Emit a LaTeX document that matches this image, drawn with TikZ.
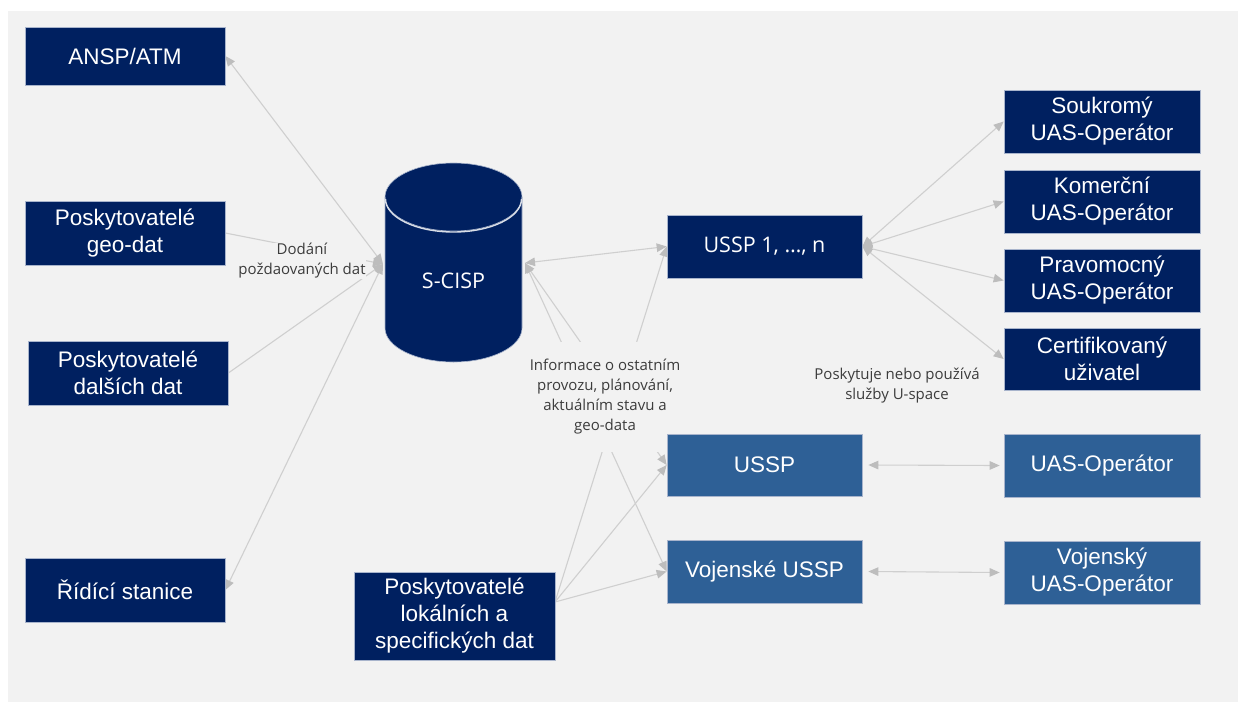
\documentclass[tikz,border=0pt]{standalone}
\usepackage{fontspec}
\setmainfont{Liberation Sans}
\newfontfamily\segoe{Open Sans}
\usetikzlibrary{arrows.meta}
\definecolor{navy}{HTML}{002060}
\definecolor{midblue}{HTML}{2E6096}
\definecolor{canvasbg}{HTML}{F2F2F2}
\definecolor{linkgray}{HTML}{CFCFCF}
\definecolor{tipgray}{HTML}{BDBDBD}
\definecolor{rimline}{HTML}{A8B4CC}
\definecolor{labeltext}{HTML}{3C3C3C}
\pgfdeclarelayer{links}
\pgfsetlayers{links,main}
\tikzset{
  box/.style={rectangle, fill=navy, draw=rimline, line width=0.7pt, text=white,
    align=center, inner sep=0pt, font=\fontsize{22.5}{27}\selectfont},
  lightbox/.style={box, fill=midblue},
  wide/.style={minimum width=200, minimum height=64},
  rightcol/.style={minimum width=196, minimum height=63},
  midcol/.style={minimum width=195, minimum height=63},
  lbl/.style={align=center, text=labeltext, inner sep=0.5pt,
    font=\segoe\fontsize{15}{20}\selectfont},
  link/.style={draw=linkgray, line width=1.1pt},
  onearrow/.style={link, arrows={-{Triangle[length=10pt,width=8.5pt,color=tipgray]}}},
  twoarrow/.style={link, arrows={{Triangle[length=10pt,width=8.5pt,color=tipgray]}-{Triangle[length=10pt,width=8.5pt,color=tipgray]}}}
}
\begin{document}
\begin{tikzpicture}[x=1pt,y=-1pt]
\useasboundingbox (0,0) rectangle (1238,702);

% left column
\node[box, minimum width=200, minimum height=58] (ansp) at (125,56) {ANSP/ATM};
\node[box, wide] (geo) at (125,233) {Poskytovatelé\\geo-dat};
\node[box, wide] (dal) at (128,373) {Poskytovatelé\\dalších dat};
\node[box, wide] (rid) at (125,590) {Řídící stanice};

% S-CISP data store
\fill[navy] (385,197) -- (385,328) arc[start angle=180,end angle=0,x radius=68.5,y radius=34]
  -- (522,197) -- cycle;
\fill[navy] (453.5,197) ellipse[x radius=68.5,y radius=34];
\draw[rimline, line width=0.6pt] (385,197) -- (385,328)
  arc[start angle=180,end angle=0,x radius=68.5,y radius=34] -- (522,197);
\draw[rimline, line width=0.6pt] (453.5,197) ellipse[x radius=68.5,y radius=34];
\draw[white!85!navy, line width=1.4pt] (385.5,199) arc[start angle=180,end angle=0,x radius=68,y radius=33];
\node[text=white, font=\segoe\fontsize{21.5}{24}\selectfont] (scisp) at (453.5,281) {S-CISP};
\coordinate (cisL) at (383,264);
\coordinate (cisR) at (525,263);

% middle column
\node[box, midcol, font=\segoe\fontsize{21.5}{24}\selectfont] (ussp1) at (764.5,246.5) {USSP 1, …, n};
\node[lightbox, midcol, minimum height=62] (ussp) at (764.5,465) {USSP};
\node[lightbox, midcol] (vussp) at (764.5,571.5) {Vojenské USSP};
\node[box, minimum width=201, minimum height=88] (lok) at (454.5,616) {Poskytovatelé\\lokálních a\\specifických dat};
\coordinate (lokR) at (555,602);

% right column
\node[box, rightcol] (sou) at (1102,121.5) {Soukromý\\UAS-Operátor};
\node[box, rightcol] (kom) at (1102,201.5) {Komerční\\UAS-Operátor};
\node[box, rightcol] (pra) at (1102,280.5) {Pravomocný\\UAS-Operátor};
\node[box, rightcol, minimum height=62] (cert) at (1102,359) {Certifikovaný\\uživatel};
\node[lightbox, rightcol] (uas) at (1102,465.5) {UAS-Operátor};
\node[lightbox, rightcol] (vuas) at (1102,572.5) {Vojenský\\UAS-Operátor};

\node[lbl] (uspace) at (897,386) {Poskytuje nebo používá\\služby U-space};

\begin{pgfonlayer}{links}
% page and canvas
\fill[white] (0,0) rectangle (1238,702);
\fill[canvasbg] (8,11) rectangle (1238,702);

% connectors
\draw[twoarrow] (cisL) -- (ansp.east);
\draw[onearrow] (geo.east) -- (cisL);
\draw[onearrow] (dal.east) -- (cisL);
\draw[twoarrow] (cisL) -- (rid.east);

\draw[twoarrow] (cisR) -- (ussp1.west);
\draw[twoarrow] (cisR) -- (ussp.west);
\draw[twoarrow] (cisR) -- (vussp.west);
\draw[onearrow] (lokR) -- (ussp1.west);
\draw[onearrow] (lokR) -- (ussp.west);
\draw[onearrow] (lokR) -- (vussp.west);

\draw[twoarrow] (ussp1.east) -- (sou.west);
\draw[twoarrow] (ussp1.east) -- (kom.west);
\draw[twoarrow] (ussp1.east) -- (pra.west);
\draw[twoarrow] (ussp1.east) -- (cert.west);
\draw[twoarrow] ([xshift=6pt]ussp.east) -- ([xshift=-4pt]uas.west);
\draw[twoarrow] ([xshift=6pt]vussp.east) -- ([xshift=-4pt]vuas.west);

% labels sitting on the connectors
\node[lbl, fill=canvasbg] (dodani) at (302,261) {Dodání\\poždaovaných dat};
\node[lbl, fill=canvasbg, minimum width=164, minimum height=110] (info) at (605,397)
  {Informace o ostatním\\provozu, plánování,\\aktuálním stavu a\\geo-data};
\end{pgfonlayer}
\end{tikzpicture}
\end{document}
